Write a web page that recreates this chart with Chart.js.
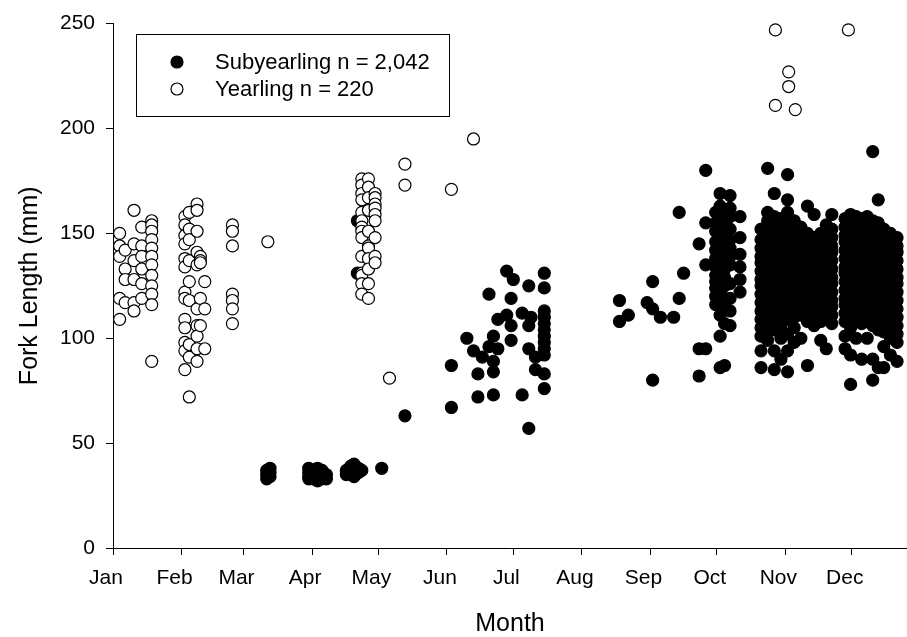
<!DOCTYPE html>
<html>
<head>
<meta charset="utf-8">
<title>Fork length by month</title>
<script src="https://cdn.jsdelivr.net/npm/chart.js@4.4.1/dist/chart.umd.min.js"></script>
<style>
  body { margin: 0; background: #fff; }
  canvas { display: block; }
</style>
</head>
<body>
<canvas id="forkChart" width="907" height="637"></canvas>
<script>
// month ticks (day of year, Jan 1 = 0)
const monthNames = ['Jan', 'Feb', 'Mar', 'Apr', 'May', 'Jun', 'Jul', 'Aug', 'Sep', 'Oct', 'Nov', 'Dec'];
const monthStarts = [0, 31, 59, 90, 120, 151, 181, 212, 243, 273, 304, 334];
const lengthTicks = [0, 50, 100, 150, 200, 250];

// yearlings: sampling day and fork lengths (mm) caught that day
const yearlingDays = [3, 5.5, 9.5, 13, 17.5, 32.5, 34.5, 38, 39.5, 41.5, 54, 70, 112.5, 115.5, 118.5, 125, 132, 153, 163, 299.5, 305.5, 308.5, 332.5];
const yearlingLengths = [
    [150, 144, 139, 119, 109],
    [142, 133, 128, 117],
    [161, 145, 137, 128, 117, 113],
    [153, 144, 139, 133, 126, 119],
    [156, 154, 151, 147, 143, 139, 135, 130, 125, 121, 116, 89],
    [158, 154, 149, 145, 138, 134, 122, 119, 109, 105, 98, 94, 85],
    [160, 152, 147, 137, 127, 118, 97, 91, 72],
    [164, 161, 151, 141, 135, 114, 106, 101, 95, 89],
    [139, 137, 136, 119, 106],
    [127, 114, 95],
    [154, 151, 144, 121, 118, 114, 107],
    [146],
    [176, 173, 169, 166, 160, 156, 153, 151, 148, 139, 131, 130, 126, 121],
    [176, 172, 167, 161, 151, 144, 143, 138, 133, 126, 119],
    [169, 167, 164, 162, 159, 156, 148, 139, 136],
    [81],
    [183, 173],
    [171],
    [195],
    [247, 211],
    [227, 220],
    [209],
    [247]
];

// subyearlings: sampling day and fork lengths (mm)
const subyearlingDays = [
    69.5, 71, 88.5, 90.5, 92.5, 94.5, 96.5, 105.5, 107.5, 109, 110.5, 111, 112.5, 121.5, 132,
    153, 160, 163, 165, 167, 170, 172, 174, 178, 180, 181, 185, 188, 189, 191, 195,
    229, 233, 241.5, 244, 247.5, 253.5, 256, 258, 265, 268,
    272.5, 274.5, 276.5, 279, 283.5,
    293, 296, 299, 302, 305, 308, 311, 314, 317, 320, 322.5, 325,
    331, 333.5, 336, 338.5, 341, 343.5, 346, 348.5, 351.5, 354.5
];
const subyearlingLengths = [
    [37, 35, 33],
    [38, 36, 34],
    [38, 36, 34, 33],
    [37, 35, 33],
    [38, 36, 34, 32],
    [37, 35, 33],
    [35, 33],
    [37, 35],
    [39, 37],
    [40, 36, 34],
    [156, 131],
    [38, 36],
    [37],
    [38],
    [63],
    [87, 67],
    [100],
    [94],
    [83, 72],
    [91],
    [121, 96],
    [101, 89, 84, 73],
    [109, 95],
    [132, 111],
    [119, 106, 99],
    [128],
    [112, 73],
    [125, 106, 95, 57],
    [110],
    [91, 85],
    [131, 124, 113, 110, 107, 104, 101, 98, 95, 92, 83, 76],
    [118, 108],
    [111],
    [117],
    [127, 114, 80],
    [110],
    [110],
    [160, 119],
    [131],
    [145, 95, 82],
    [180, 155, 135, 95],
    [160, 155, 151, 146, 142, 138, 134, 130, 127, 124, 120, 116],
    [169, 163, 157, 153, 148, 144, 140, 136, 131, 127, 122, 118, 111, 101, 86],
    [158, 154, 150, 145, 141, 137, 133, 129, 125, 119, 114, 107, 87],
    [168, 162, 158, 152, 147, 143, 139, 135, 126, 119, 113, 106],
    [158, 148, 140, 134, 128, 122],
    [152, 147, 143, 139, 136, 132, 128, 125, 121, 117, 113, 109, 105, 101, 94, 86],
    [181, 160, 156, 151, 148, 144, 140, 137, 133, 129, 126, 122, 118, 114, 110, 107, 103, 99],
    [169, 158, 154, 150, 146, 142, 139, 135, 131, 127, 124, 120, 116, 112, 108, 104, 94, 85],
    [157, 153, 149, 145, 141, 138, 134, 130, 126, 123, 119, 115, 111, 106, 100, 90],
    [178, 166, 160, 155, 151, 147, 143, 139, 136, 132, 128, 124, 120, 117, 113, 109, 102, 94, 84],
    [156, 151, 148, 144, 140, 136, 133, 129, 125, 121, 118, 114, 110, 105, 98],
    [153, 149, 145, 141, 137, 134, 130, 126, 122, 119, 115, 111, 100],
    [163, 150, 146, 142, 138, 135, 131, 127, 123, 120, 116, 112, 108, 87],
    [159, 148, 144, 140, 136, 133, 129, 125, 121, 118, 114, 110, 106],
    [150, 146, 142, 139, 135, 131, 127, 124, 120, 116, 112, 108, 99],
    [154, 150, 147, 143, 139, 135, 132, 128, 124, 120, 117, 113, 110, 95],
    [159, 152, 148, 144, 141, 137, 133, 129, 126, 122, 118, 115, 111, 107],
    [157, 153, 149, 146, 142, 138, 134, 131, 127, 123, 119, 116, 112, 108, 101, 95],
    [159, 155, 151, 147, 143, 140, 136, 132, 128, 125, 121, 117, 113, 109, 105, 92, 78],
    [158, 154, 150, 146, 142, 138, 135, 131, 127, 123, 120, 116, 112, 108, 100],
    [157, 153, 149, 145, 141, 137, 134, 130, 126, 122, 118, 115, 111, 107, 90],
    [158, 154, 150, 146, 143, 139, 135, 131, 128, 124, 120, 116, 113, 109, 100],
    [189, 156, 152, 148, 144, 140, 137, 133, 129, 125, 122, 118, 114, 110, 106, 90, 80],
    [166, 155, 150, 147, 143, 139, 135, 132, 128, 124, 120, 117, 113, 109, 104, 86],
    [152, 149, 145, 141, 137, 134, 130, 126, 122, 119, 115, 111, 107, 103, 96, 86],
    [150, 146, 142, 138, 135, 131, 127, 123, 119, 116, 112, 108, 104, 100, 92],
    [148, 144, 141, 137, 133, 129, 126, 122, 118, 114, 110, 106, 102, 98, 89]
];

function toPoints(days, lengths) {
    return days.flatMap((day, i) => lengths[i].map(len => ({ x: day, y: len })));
}

const FONT = "'Liberation Sans', Arial, sans-serif";

// legend drawn inside the plot, boxed, like the original figure
const legendBox = {
    id: 'legendBox',
    afterDraw(chart) {
        const ctx = chart.ctx;
        const sets = chart.data.datasets;
        ctx.save();
        ctx.fillStyle = '#fff';
        ctx.fillRect(136, 34, 313, 82);
        ctx.strokeStyle = '#000';
        ctx.lineWidth = 1;
        ctx.strokeRect(136.5, 34.5, 313, 82);
        ctx.font = '22px ' + FONT;
        ctx.textBaseline = 'middle';
        sets.forEach((ds, row) => {
            const y = 62 + row * 27;
            ctx.beginPath();
            ctx.arc(177, y, ds.pointRadius, 0, Math.PI * 2);
            ctx.fillStyle = ds.backgroundColor;
            ctx.fill();
            ctx.lineWidth = ds.borderWidth;
            ctx.strokeStyle = ds.borderColor;
            ctx.stroke();
            ctx.fillStyle = '#000';
            ctx.fillText(ds.label, 215, y + 1);
        });
        ctx.restore();
    }
};

const ctx = document.getElementById('forkChart').getContext('2d');
new Chart(ctx, {
    type: 'scatter',
    data: {
        datasets: [{
            label: 'Subyearling n = 2,042',
            data: toPoints(subyearlingDays, subyearlingLengths),
            backgroundColor: '#000',
            borderColor: '#000',
            borderWidth: 1.2,
            pointRadius: 6,
            clip: false,
            order: 2
        }, {
            label: 'Yearling n = 220',
            data: toPoints(yearlingDays, yearlingLengths),
            backgroundColor: '#fff',
            borderColor: '#000',
            borderWidth: 1.2,
            pointRadius: 6,
            clip: false,
            order: 1
        }]
    },
    options: {
        responsive: false,
        animation: false,
        layout: { autoPadding: false, padding: { top: 20, right: 0, left: 0, bottom: 0 } },
        plugins: {
            legend: { display: false },
            tooltip: { enabled: false }
        },
        scales: {
            x: {
                type: 'linear',
                min: 0,
                max: 359,
                afterBuildTicks: scale => {
                    scale.ticks = monthStarts.map(v => ({ value: v }));
                },
                afterFit: scale => { scale.height = 89; },
                ticks: {
                    autoSkip: false,
                    maxRotation: 0,
                    padding: 11,
                    labelOffset: -7,
                    color: '#000',
                    font: { family: FONT, size: 21 },
                    callback: v => monthNames[monthStarts.indexOf(v)]
                },
                grid: { drawOnChartArea: false, tickLength: 7, color: '#000', tickColor: '#000' },
                border: { color: '#000', width: 1 },
                title: {
                    display: true,
                    text: 'Month',
                    color: '#000',
                    font: { family: FONT, size: 25, lineHeight: 1 },
                    padding: { top: 0, bottom: 0 }
                }
            },
            y: {
                min: 0,
                max: 250,
                afterBuildTicks: scale => {
                    scale.ticks = lengthTicks.map(v => ({ value: v }));
                },
                afterFit: scale => { scale.width = 113; },
                ticks: {
                    padding: 11,
                    color: '#000',
                    font: { family: FONT, size: 21 }
                },
                grid: { drawOnChartArea: false, tickLength: 7, color: '#000', tickColor: '#000' },
                border: { color: '#000', width: 1 },
                title: {
                    display: true,
                    text: 'Fork Length (mm)',
                    color: '#000',
                    font: { family: FONT, size: 25, lineHeight: 1 },
                    padding: { top: 18, bottom: 0 }
                }
            }
        }
    },
    plugins: [legendBox]
});
</script>
</body>
</html>
